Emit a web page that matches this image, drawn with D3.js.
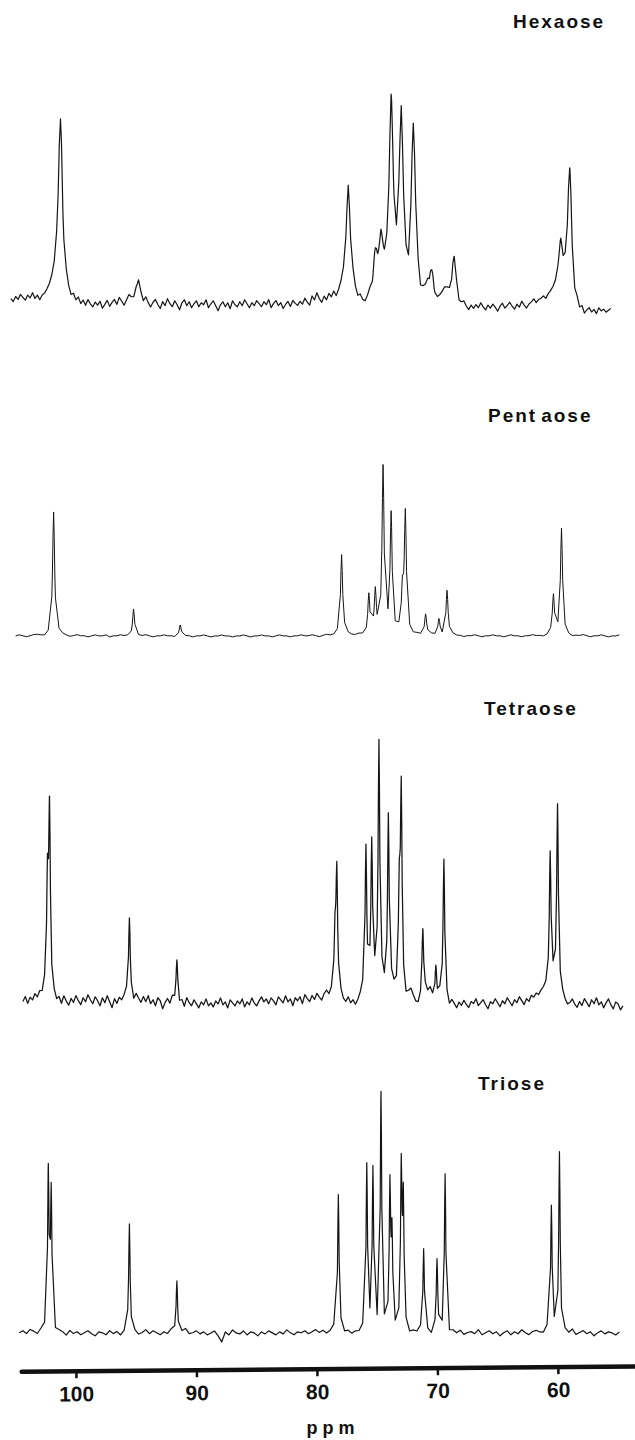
<!DOCTYPE html>
<html>
<head>
<meta charset="utf-8">
<script src="https://cdn.jsdelivr.net/npm/d3@7"></script>
<style>
  body { margin: 0; background: #fff; }
  svg { display: block; }
  text { font-family: "Liberation Sans", Arial, Helvetica, sans-serif; font-weight: bold; fill: #111; }
</style>
</head>
<body>
<div id="chart"></div>
<script>
// sample names, top to bottom
var names = ["Hexaose", "Pentaose", "Tetraose", "Triose"];

// peaks: [ppm, height]
var hexPeaks = [[101.28, 170], [94.8, 20], [77.4, 112], [75.15, 40], [74.68, 46], [73.84, 180],
  [73.0, 170], [72.0, 162], [70.47, 28], [68.62, 52], [59.76, 44], [59.02, 128]];
var pentPeaks = [[101.85, 124], [95.22, 26], [91.35, 10], [77.95, 80], [75.69, 40], [75.15, 42],
  [74.51, 165], [73.84, 120], [72.9, 40], [72.66, 120], [70.98, 22], [69.87, 16], [69.2, 45],
  [60.37, 40], [59.70, 105]];
var tetraPeaks = [[102.36, 110], [102.19, 175], [95.56, 78], [91.62, 40], [78.5, 50], [78.35, 115],
  [75.93, 140], [75.45, 140], [74.85, 245], [74.07, 172], [73.16, 90], [73.0, 198], [71.21, 66],
  [70.13, 36], [69.46, 146], [60.64, 130], [60.03, 182]];
var triPeaks = [[102.29, 160], [102.05, 135], [95.56, 107], [91.62, 54], [78.22, 138], [75.86, 168],
  [75.35, 160], [74.68, 235], [73.94, 140], [73.77, 90], [73.0, 158], [72.83, 125], [71.14, 85],
  [70.03, 73], [69.36, 158], [60.54, 125], [59.87, 180]];

// baseline noise, one value per step (ppm) going upfield from the start ppm
var noiseStart = [105.4, 105.0, 104.4, 104.7];
var noiseStep = [0.2, 0.3, 0.2, 0.3];
var hexNoise = [4, 1, 6, 3, 8, 5, 2, 7, 4, 9, 3, 6, 1, 5, 6, 9, 12, 16, 20, 24,
  22, 14, 6, 9, 4, 0, 4, -1, 3, -3, 1, -4, 2, -2, -5, 0, -3, 1, -6, -2,
  2, -4, 0, 3, -2, 5, 1, -3, 2, 7, 4, 2, 6, 3, 1, -2, 4, -1, -5, 0,
  3, -2, -6, 1, -3, 4, -1, -4, 2, -2, -7, 0, 3, -3, 1, -5, -1, 2, -4, 0,
  -2, 3, -5, -1, 2, -3, -8, -2, 1, -4, 0, -6, 2, -2, -4, 1, -3, 3, -1, -5,
  0, -3, 2, -1, -4, 1, -2, 3, -5, -1, 2, -3, 0, -6, -2, 1, -4, 2, -1, -3,
  1, -2, 4, 0, -3, 6, 2, 9, 3, -1, 5, 1, 7, 3, 8, 2, 6, 10, 12, 8,
  4, 6, 10, 3, -2, 1, -4, -6, -2, 2, -3, 1, 4, 6, 8, 10, 12, 10, 14, 12,
  8, 14, 10, 6, 2, -6, 4, 8, 12, 6, -4, 2, 6, 10, 4, 0, -4, -2, 2, 6,
  10, 8, 2, -4, -7, -3, -8, -5, -2, -6, -9, -4, -7, -3, -6, -1, -5, -8, -3, -6,
  -2, -5, -9, -4, -1, -6, -3, 0, -4, -7, -2, -5, 1, -3, -6, -2, 0, 3, -1, 2,
  3, 5, 2, 6, 8, 10, 12, 14, 12, 10, 12, 8, 4, -4, -10, -6, -12, -8, -14, -10,
  -7, -11, -8, -12, -6, -9, -7, -10, -8, -6];
var pentNoise = [0, 1, 0, -1, 0, 1, 1, 0, -1, 0,
  1, 0, 2, 1, 0, -1, 0, 1, 0, 0,
  -1, 0, 1, 0, 0, 1, -1, 0, 0, 1,
  0, 0, -1, 1, 0, 0, 1, 0, -1, 0,
  0, 1, 0, 0, -1, 0, 1, 0, 0, -1,
  0, 0, 1, 0, -1, 0, 0, 1, 0, 0,
  -1, 0, 0, 1, 0, -1, 0, 0, 1, 0,
  0, -1, 0, 1, 0, 0, -1, 0, 0, 1,
  0, 0, 1, 0, -1, 0, 1, 0, 0, 1,
  1, 2, 1, 0, 0, 1, 0, -1, 0, 1,
  0, 1, 2, 1, 0, 1, 2, 1, 0, 1,
  0, 1, 0, -1, 0, 1, 0, 0, -1, 0,
  0, 1, 0, 0, -1, 0, 0, 1, 0, -1,
  0, 0, 1, 0, 0, -1, 0, 1, 0, 0,
  -1, 0, 0, 1, 0, 0, -1, 0, 1, 0,
  1, 2, 1, 0, -1, 0, 0, 1, 0, -1,
  0, 0, 1, 0, -1, 0, 0, 1];
var tetraNoise = [-2, 3, -4, 2, -1, 5, 1, 6, 3, 8, 5, 9, 4, 2, -3, 1, -5, 3, -2, -6,
  1, -3, 4, -1, -5, 2, -2, 5, 0, -4, 3, -1, -6, 2, -3, 4, -2, -8, 1, -4,
  2, -1, 3, 6, 4, 2, -2, 5, 1, -3, 3, -2, 4, -4, 0, -6, 2, -1, -9, -3,
  1, -4, 3, -2, 0, -5, -1, -7, 2, -3, -6, 0, -4, -8, -2, -5, 1, -6, -3, -7,
  -1, -4, 2, -5, -2, -8, 0, -3, -6, -1, -4, 1, -7, -2, -5, 2, -3, -6, -1, 3,
  -2, 1, -4, 2, -1, -5, 3, 0, -3, 4, -2, 1, -6, 2, -1, 3, -4, 5, 1, -2,
  4, 0, 6, 2, -1, 5, 8, 3, 6, 9, 12, 8, 4, -2, -4, 1, -5, -2, -7, -3,
  2, 6, 10, 8, 12, 14, 16, 12, 10, 14, 8, 6, 10, 12, 8, 4, 10, 6, 2, -2,
  4, 8, 2, -4, -6, -2, 4, 8, 6, 10, 2, -4, -2, 4, -1, -6, -3, -8, -2, -5,
  -9, -3, -6, -1, -5, -8, -2, -4, 1, -6, -3, 0, -5, -9, -2, -4, 1, -3, -7, -1,
  -4, 2, -2, -6, 0, -3, 3, -1, -5, 1, -2, 4, 2, 6, 4, 8, 10, 12, 14, 16,
  18, 14, 12, 8, 4, -2, -6, -4, 0, -5, -8, -2, -6, 1, -3, -7, 0, -4, 2, -5,
  -2, -8, -3, 1, -5, -9, -2, -4, -10, -6];
var triNoise = [0, 2, -1, 3, 1, -2, 2, 1, -1, 3,
  -2, 1, 0, -3, 2, -1, 1, -2, 0, 2,
  -1, -3, 1, 0, -2, 2, -1, 1, -3, 0,
  2, -1, 1, -2, 0, 3, -1, 2, 0, -2,
  1, -1, 3, 0, -2, 1, 4, -1, 0, 2,
  -1, 1, -2, 0, 2, -3, -9, 1, -2, 3,
  0, -1, 2, -2, 1, 0, -3, 1, -1, 2,
  0, -2, 1, -1, 3, 0, -2, 1, 0, 2,
  -1, 1, 3, 0, 2, -1, 1, 4, 0, 2,
  -1, 1, -2, 0, -1, 1, -2, 0, 1, -1,
  2, -1, 0, 1, -2, 0, 1, -1, -3, 0,
  -1, 1, -2, 0, -3, 1, -1, -2, 0, -3,
  1, -1, 2, -2, 0, 1, -1, 3, -2, 0,
  2, -1, 1, -3, 0, 2, -2, 1, -1, 3,
  0, -2, 1, 2, 0, -1, 3, 1, 2, 0,
  -2, 1, -1, 3, -2, 0, 2, -1, 1, -3,
  0, 2, -1, 1, 0, -2, 1];

// axis ticks (ppm)
var ppmTicks = [100, 90, 80, 70, 60];

var allPeaks = [hexPeaks, pentPeaks, tetraPeaks, triPeaks];
var allNoise = [hexNoise, pentNoise, tetraNoise, triNoise];

// layout
var width = 635, height = 1440;
var baselines = [303, 636, 1000, 1333];
var labelPos = [[513, 28], [488, 422], [484, 715], [478, 1090]];
var halfWidth = [0.2, 0.1, 0.08, 0.07]; // line half width, ppm
var strokeW = [1.2, 1.0, 1.25, 1.2];

var svg = d3.select("#chart")
  .append("svg")
    .attr("width", width)
    .attr("height", height);

var x = d3.scaleLinear()
  .domain([106.3, 53.6])
  .range([0, width]);

// build one trace from noise samples plus the peak list
function buildTrace(noise, start, step, peaks, w) {
  var pts = noise.map(function(v, i) { return [start - i * step, v]; });
  peaks.forEach(function(p) {
    [-1, -0.5, 0, 0.5, 1].forEach(function(k) { pts.push([p[0] + k * w, null]); });
  });
  pts.forEach(function(pt) {
    var i = Math.round((start - pt[0]) / step);
    i = Math.max(0, Math.min(noise.length - 1, i));
    var base = pt[1] === null ? noise[i] : pt[1];
    var s = 0;
    peaks.forEach(function(p) {
      var d = (pt[0] - p[0]) / w;
      s += p[1] / (1 + d * d);
    });
    pt[1] = base + s;
  });
  var last = start - (noise.length - 1) * step;
  pts = pts.filter(function(pt) { return pt[0] <= start && pt[0] >= last; });
  pts.sort(function(a, b) { return b[0] - a[0]; });
  return pts;
}

names.forEach(function(name, k) {
  var y = d3.scaleLinear()
    .domain([0, 100])
    .range([baselines[k], baselines[k] - 100]);

  var line = d3.line()
    .x(function(d) { return x(d[0]); })
    .y(function(d) { return y(d[1]); });

  svg.append("path")
    .datum(buildTrace(allNoise[k], noiseStart[k], noiseStep[k], allPeaks[k], halfWidth[k]))
    .attr("fill", "none")
    .attr("stroke", "#151515")
    .attr("stroke-width", strokeW[k])
    .attr("stroke-linejoin", "round")
    .attr("d", line);

  var t = svg.append("text")
    .attr("x", labelPos[k][0])
    .attr("y", labelPos[k][1])
    .style("font-size", "19px")
    .style("letter-spacing", "2px");
  if (name === "Pentaose") {
    t.append("tspan").text("Pent");
    t.append("tspan").attr("dx", 4).text("aose");
  } else {
    t.text(name);
  }
});

// ppm axis, slightly tilted like the original print
var gAxis = svg.append("g")
  .attr("transform", "translate(0,1372) rotate(-0.5)");

gAxis.call(d3.axisBottom(x).tickValues(ppmTicks).tickSize(7).tickPadding(8))
  .select(".domain").remove();

gAxis.append("line")
  .attr("x1", x(104.5))
  .attr("x2", width)
  .attr("y1", 0)
  .attr("y2", 0)
  .attr("stroke", "#111")
  .attr("stroke-width", 4.5)
  .attr("stroke-linecap", "round");

gAxis.selectAll(".tick line")
  .attr("stroke", "#111")
  .attr("stroke-width", 2.5);

gAxis.selectAll(".tick text")
  .attr("fill", "#111")
  .style("font-size", "21px")
  .style("font-family", "\"Liberation Sans\", Arial, sans-serif")
  .style("font-weight", "bold");

svg.append("text")
  .attr("x", 333)
  .attr("y", 1434)
  .attr("text-anchor", "middle")
  .style("font-size", "18px")
  .style("letter-spacing", "5px")
  .text("ppm");
</script>
</body>
</html>
